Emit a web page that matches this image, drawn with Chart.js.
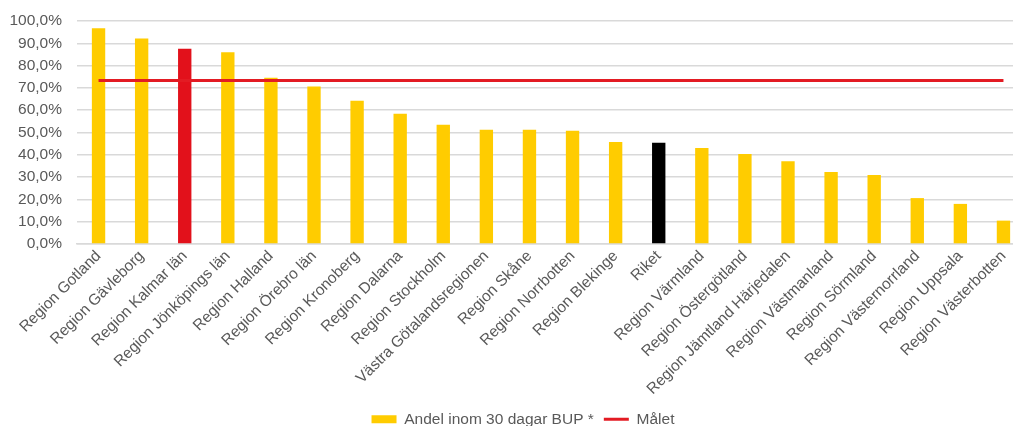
<!DOCTYPE html>
<html>
<head>
<meta charset="utf-8">
<script src="https://cdn.jsdelivr.net/npm/chart.js@4"></script>
<style>
html,body{margin:0;padding:0;background:#fff;overflow:hidden;}
#wrap{width:1013px;height:426px;overflow:hidden;position:relative;}
#box{position:absolute;left:0;top:0;width:1046px;height:440px;}
</style>
</head>
<body>
<div id="wrap"><div id="box"><canvas id="c" width="1046" height="440"></canvas></div></div>
<script>
const categories = [
  "Region Gotland","Region Gävleborg","Region Kalmar län","Region Jönköpings län",
  "Region Halland","Region Örebro län","Region Kronoberg","Region Dalarna",
  "Region Stockholm","Västra Götalandsregionen","Region Skåne","Region Norrbotten",
  "Region Blekinge","Riket","Region Värmland","Region Östergötland",
  "Region Jämtland Härjedalen","Region Västmanland","Region Sörmland",
  "Region Västernorrland","Region Uppsala","Region Västerbotten"
];
const andelInom30 = [96.8,92.2,87.6,86.0,74.6,70.6,64.3,58.4,53.5,51.2,51.2,50.8,45.8,45.4,43.1,40.4,37.1,32.3,30.9,20.6,18.0,10.5];
const malet = [73.3,73.3,73.3,73.3,73.3,73.3,73.3,73.3,73.3,73.3,73.3,73.3,73.3,73.3,73.3,73.3,73.3,73.3,73.3,73.3,73.3,73.3];
const yTicks = [0,10,20,30,40,50,60,70,80,90,100];
const seriesNames = ["Andel inom 30 dagar BUP *","Målet"];

const YELLOW = "#FFCC00", RED = "#E2111B", BLACK = "#000000", TEXT = "#595959";
const barColors = categories.map(c => c === "Region Kalmar län" ? RED : (c === "Riket" ? BLACK : YELLOW));
const FONT = { family: "Liberation Sans", size: 15.5 };

const legendShift = {
  id: "legendShift",
  afterLayout(chart) {
    if (chart.legend) { chart.legend.left += 7; chart.legend.right += 7; }
  }
};

new Chart(document.getElementById("c"), {
  data: {
    labels: categories,
    datasets: [
      { type: "line", label: seriesNames[1], data: malet, borderColor: "#E31B23", borderWidth: 3,
        pointRadius: 0, fill: false, order: 0 },
      { type: "bar", label: seriesNames[0], data: andelInom30, backgroundColor: barColors,
        barPercentage: 0.31, categoryPercentage: 1, order: 1 }
    ]
  },
  plugins: [legendShift],
  options: {
    responsive: false,
    animation: false,
    layout: { padding: { left: 7, right: 21, top: 21, bottom: 3 } },
    plugins: {
      tooltip: { enabled: false },
      legend: {
        position: "bottom",
        labels: {
          color: TEXT,
          font: FONT,
          usePointStyle: true,
          pointStyleWidth: 25,
          boxHeight: 8,
          padding: 10,
          generateLabels: () => [
            { text: seriesNames[0], fillStyle: YELLOW, strokeStyle: YELLOW, lineWidth: 0, pointStyle: "rect", fontColor: TEXT, datasetIndex: 1 },
            { text: seriesNames[1], fillStyle: "#E31B23", strokeStyle: "#E31B23", lineWidth: 3, pointStyle: "line", fontColor: TEXT, datasetIndex: 0 }
          ]
        }
      }
    },
    scales: {
      x: {
        grid: { display: false, drawTicks: false },
        border: { display: true, color: "#D9D9D9", width: 1.5 },
        ticks: { color: TEXT, font: FONT, minRotation: 45, maxRotation: 45, padding: 3 },
        afterFit: (s) => { s.paddingLeft = 0; s.paddingRight = 0; }
      },
      y: {
        min: 0, max: 100,
        afterBuildTicks: (s) => { s.ticks = yTicks.map(v => ({ value: v })); },
        afterFit: (s) => { s.width = 70; s.paddingTop = 0; s.paddingBottom = 0; },
        grid: { color: "#D9D9D9", lineWidth: 1.5, drawTicks: false },
        border: { display: false },
        ticks: { color: TEXT, font: FONT, padding: 15,
          callback: (v) => v.toFixed(1).replace(".", ",") + "%" }
      }
    }
  }
});
</script>
</body>
</html>
